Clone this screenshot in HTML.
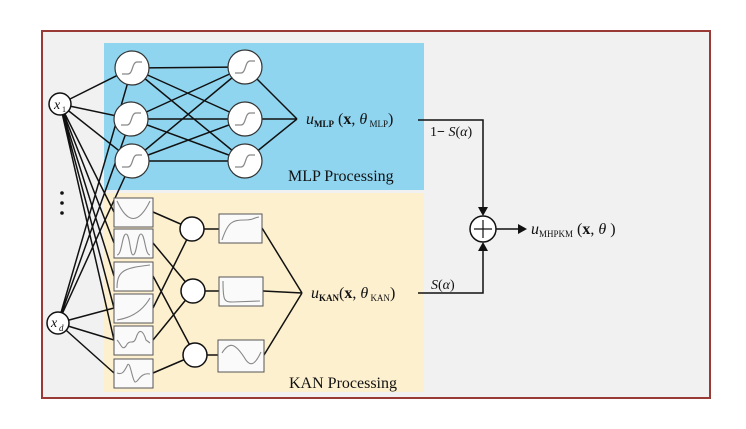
<!DOCTYPE html>
<html><head><meta charset="utf-8"><style>
html,body{margin:0;padding:0;background:#fff}
svg{display:block}
text{font-family:"Liberation Serif",serif;fill:#111}
</style></head><body>
<svg width="746" height="429" viewBox="0 0 746 429" xmlns="http://www.w3.org/2000/svg">
<rect x="42" y="31" width="668" height="367" fill="#f1f1f1" stroke="#9a3a36" stroke-width="2"/>
<rect x="104" y="43" width="320" height="147" fill="#8fd5f0"/>
<rect x="104" y="193" width="320" height="199" fill="#fdf0cf"/>
<g stroke="#111" stroke-width="1.5" fill="none">
<path d="M60 104L132 68M60 104L131 119M60 104L132 161M58 323L132 68M58 323L131 119M58 323L132 161"/>
<path d="M60 104L114 212M60 104L114 243M60 104L114 276M60 104L114 308M58 323L114 308M58 323L114 340M58 323L114 373M60 104L114 340"/>
<path d="M132 68L245 67M132 68L245 119M132 68L245 161M131 119L245 67M131 119L245 119M131 119L245 161M132 161L245 67M132 161L245 119M132 161L245 161"/>
<path d="M245 67L297 119M245 119L297 119M245 161L297 119"/>
<path d="M153 212L192 229M153 243L193 291M153 276L195 355M153 308L192 229M153 340L193 291M153 373L195 355"/>
<path d="M204 229L219 229M205 291L219 291M207 355L218 355"/>
<path d="M262 228L302 293M263 291L302 293M264 355L302 293"/>
<path d="M418 120H483V208M418 293H483V250M496 229H518"/>
</g>
<circle cx="483" cy="229" r="13" fill="#fff" stroke="#111" stroke-width="1.5"/>
<path d="M474 229H492M483 220V238" stroke="#111" stroke-width="1.2"/>
<polygon points="478,207 488,207 483,216" fill="#111"/>
<polygon points="478,251 488,251 483,242" fill="#111"/>
<polygon points="518,224 518,234 527,229" fill="#111"/>
<g fill="#fff" stroke="#111" stroke-width="1.5">
<circle cx="60" cy="104" r="11"/><circle cx="58" cy="323" r="11"/>
</g>
<text x="54" y="109" font-size="14" font-style="italic">x</text><text x="62" y="112" font-size="8">1</text>
<text x="51" y="327" font-size="14" font-style="italic">x</text><text x="59" y="331" font-size="9" font-style="italic">d</text>
<g fill="#111"><circle cx="62" cy="193" r="1.8"/><circle cx="62" cy="203" r="1.8"/><circle cx="62" cy="213" r="1.8"/></g>
<g fill="#fff" stroke="#333" stroke-width="1.2">
<circle cx="132" cy="68" r="17"/><circle cx="131" cy="119" r="17"/><circle cx="132" cy="161" r="17"/>
<circle cx="245" cy="67" r="17"/><circle cx="245" cy="119" r="17"/><circle cx="245" cy="161" r="17"/>
</g>
<g fill="none" stroke="#888" stroke-width="1.2">
<path d="M122 74H128C133 74 132 62 137 62H142"/><path d="M121 125H127C132 125 131 113 136 113H141"/><path d="M122 167H128C133 167 132 155 137 155H142"/>
<path d="M235 73H241C246 73 245 61 250 61H255"/><path d="M235 125H241C246 125 245 113 250 113H255"/><path d="M235 167H241C246 167 245 155 250 155H255"/>
</g>
<g fill="#fafafa" stroke="#555" stroke-width="1">
<rect x="114" y="198" width="39" height="29"/><rect x="114" y="229" width="39" height="29"/><rect x="114" y="262" width="39" height="29"/>
<rect x="114" y="294" width="39" height="29"/><rect x="114" y="326" width="39" height="29"/><rect x="114" y="359" width="39" height="29"/>
<rect x="219" y="214" width="43" height="29"/><rect x="219" y="277" width="44" height="29"/><rect x="218" y="340" width="46" height="32"/>
</g>
<g fill="none" stroke="#888" stroke-width="1.1">
<path d="M117 201Q133 236 150 201"/>
<path d="M117 255C122 255 122 234 126 234C130 234 130 255 133 255C137 255 137 234 141 234C145 234 145 255 150 255"/>
<path d="M117 288C117 270 125 268 150 265"/>
<path d="M117 320C130 318 142 312 150 298"/>
<path d="M117 340C121 344 122 351 126 346C130 338 133 346 136 338C139 328 143 330 146 340L150 343"/>
<path d="M117 373C122 375 124 372 127 366C130 358 132 380 135 382C138 383 140 372 150 374"/>
<path d="M222 240C228 222 232 220 245 220C255 220 252 218 259 217"/>
<path d="M223 281C223 300 224 302 232 302L260 301"/>
<path d="M222 353C230 340 236 345 244 357C250 368 255 365 261 352"/>
</g>
<g fill="#fff" stroke="#111" stroke-width="1.5">
<circle cx="192" cy="229" r="12"/><circle cx="193" cy="291" r="12"/><circle cx="195" cy="355" r="12"/>
</g>
<text x="306" y="124" font-size="16"><tspan font-style="italic">u</tspan><tspan font-size="9" font-weight="bold" dy="3">MLP</tspan><tspan dy="-3"> (</tspan><tspan font-weight="bold">x</tspan>, <tspan font-style="italic">θ</tspan><tspan font-size="9" dy="3"> MLP</tspan><tspan dy="-3">)</tspan></text>
<text x="311" y="298" font-size="16"><tspan font-style="italic">u</tspan><tspan font-size="9" font-weight="bold" dy="3">KAN</tspan><tspan dy="-3">(</tspan><tspan font-weight="bold">x</tspan>, <tspan font-style="italic">θ</tspan><tspan font-size="9" dy="3"> KAN</tspan><tspan dy="-3">)</tspan></text>
<text x="531" y="234" font-size="16"><tspan font-style="italic">u</tspan><tspan font-size="9" dy="3">MHPKM</tspan><tspan dy="-3"> (</tspan><tspan font-weight="bold">x</tspan>, <tspan font-style="italic">θ</tspan> )</text>
<text x="430" y="136" font-size="14">1<tspan font-weight="bold">−</tspan> <tspan font-style="italic">S</tspan>(<tspan font-style="italic">α</tspan>)</text>
<text x="431" y="289" font-size="14"><tspan font-style="italic">S</tspan>(<tspan font-style="italic">α</tspan>)</text>
<text x="288" y="181" font-size="16">MLP Processing</text>
<text x="289" y="388" font-size="16">KAN Processing</text>
</svg>
</body></html>
